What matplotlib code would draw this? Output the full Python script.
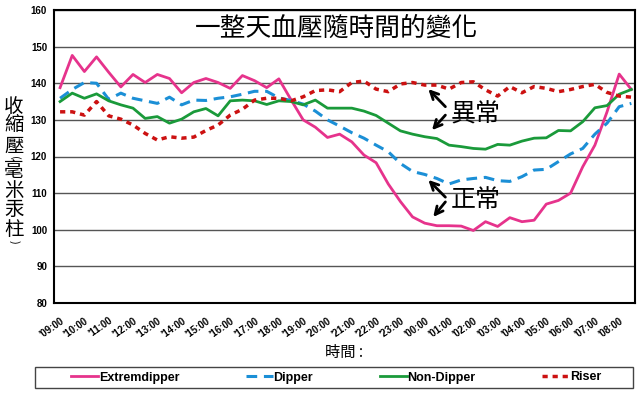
import matplotlib
matplotlib.use('Agg')
import matplotlib.pyplot as plt
import matplotlib.transforms as mtransforms
from matplotlib.patches import Rectangle
import numpy as np

# 每半小時一筆 (09:00 ~ 08:30)
hour_labels = ["'09:00", "'10:00", "'11:00", "'12:00", "'13:00", "'14:00", "'15:00", "'16:00",
               "'17:00", "'18:00", "'19:00", "'20:00", "'21:00", "'22:00", "'23:00", "'00:00",
               "'01:00", "'02:00", "'03:00", "'04:00", "'05:00", "'06:00", "'07:00", "'08:00"]

extremdipper = [138.8, 147.6, 143.2, 147.2, 143.0, 139.0, 142.4, 140.2, 142.4, 141.3, 137.4, 140.2,
                141.3, 140.2, 138.6, 142.1, 140.7, 138.8, 141.2, 135.5, 130.0, 128.0, 125.2, 126.1,
                124.0, 120.4, 118.3, 112.5, 107.7, 103.5, 101.8, 101.1, 101.1, 101.0, 99.8, 102.2,
                100.9, 103.3, 102.2, 102.6, 107.0, 108.0, 110.0, 117.2, 123.1, 132.2, 142.5, 138.3]
dipper = [135.9, 138.3, 140.2, 140.0, 135.6, 137.3, 135.9, 135.2, 134.5, 136.2, 134.1, 135.4,
          135.3, 135.9, 136.3, 137.0, 137.8, 137.8, 136.0, 135.3, 134.3, 132.4, 130.0, 128.3,
          126.5, 125.0, 123.1, 121.3, 118.1, 115.9, 115.1, 114.0, 112.5, 113.6, 114.0, 114.3,
          113.4, 113.2, 114.5, 116.3, 116.5, 118.6, 120.7, 122.2, 126.1, 129.1, 133.6, 134.5]
non_dipper = [135.0, 137.3, 135.9, 137.1, 135.2, 134.1, 133.2, 130.4, 130.9, 129.1, 130.2, 132.2,
              133.1, 131.1, 135.2, 135.4, 135.2, 134.2, 135.2, 135.0, 134.1, 135.4, 133.2, 133.2,
              133.2, 132.4, 131.2, 129.1, 127.0, 126.1, 125.4, 124.9, 123.1, 122.7, 122.2, 122.0,
              123.3, 123.1, 124.2, 125.0, 125.1, 127.1, 127.0, 129.5, 133.3, 133.9, 137.0, 138.3]
riser = [132.2, 132.2, 131.3, 135.0, 131.1, 130.2, 128.6, 126.3, 124.5, 125.4, 125.0, 125.3,
         127.1, 128.6, 131.3, 132.9, 135.4, 135.9, 135.9, 135.2, 136.3, 138.0, 138.2, 137.7,
         140.2, 140.6, 138.4, 137.7, 139.8, 140.2, 139.5, 139.5, 138.4, 140.2, 140.4, 138.2,
         136.5, 139.1, 137.4, 139.1, 138.6, 137.7, 138.3, 139.1, 139.7, 137.5, 136.5, 136.2]

plt.rcParams['font.family'] = ['Liberation Sans', 'Noto Sans CJK TC', 'DejaVu Sans']
cjk = ['Noto Sans CJK TC', 'DejaVu Sans']

fig = plt.figure(figsize=(6.4, 3.98), dpi=100)
ax = fig.add_axes([54/640, 1 - 303/398, 581/640, 293/398])

x = np.arange(len(extremdipper))
ax.plot(x, extremdipper, color='#E6338C', lw=2, label='Extremdipper')
ax.plot(x, dipper, color='#1B8FD6', lw=2.2, ls=(0, (3.5, 2.2)), label='Dipper')
ax.plot(x, non_dipper, color='#1A9A3A', lw=2, label='Non-Dipper')
ax.plot(x, riser, color='#CC1111', lw=2.5, ls=(0, (1.5, 1.4)), label='Riser')

ax.set_xlim(-0.5, 47.3)
ax.set_ylim(80, 160)
ax.set_yticks(range(80, 161, 10))
ax.yaxis.grid(True, color='#555555', lw=1)
ax.set_axisbelow(True)
ax.set_xticks(np.arange(0, 48, 2))
ax.set_xticklabels(hour_labels, rotation=35, ha='right', va='top',
                   rotation_mode='anchor', fontsize=7, fontweight='bold')
shift = mtransforms.ScaledTranslation(-3/100, 0, fig.dpi_scale_trans)
for lab in ax.get_xticklabels():
    lab.set_transform(lab.get_transform() + shift)
for lab in ax.get_yticklabels():
    lab.set_fontsize(7)
    lab.set_fontweight('bold')
ax.tick_params(length=0)
ax.tick_params(axis='x', pad=9)
ax.tick_params(axis='y', pad=5)
for sp in ax.spines.values():
    sp.set_color('black')
    sp.set_linewidth(1.5)

# 標題
ax.text(0.486, 0.935, '一整天血壓隨時間的變化', transform=ax.transAxes, ha='center', va='center',
        fontsize=18.5, family=cjk)

# 註解
ax.text(34.2, 131.4, '異常', ha='center', va='center', fontsize=18, family=cjk)
ax.text(34.2, 108.2, '正常', ha='center', va='center', fontsize=18, family=cjk)
arrow = dict(arrowstyle='->', lw=2, color='black', mutation_scale=14, shrinkA=0, shrinkB=0)
ax.annotate('', xy=(30.3, 138.4), xytext=(31.7, 133.6), arrowprops=arrow)
ax.annotate('', xy=(30.6, 127.2), xytext=(31.7, 131.3), arrowprops=arrow)
ax.annotate('', xy=(30.3, 113.6), xytext=(31.7, 108.9), arrowprops=arrow)
ax.annotate('', xy=(30.7, 103.5), xytext=(31.7, 107.6), arrowprops=arrow)

# y 軸標題 (直排)
ylab = ['收', '縮', '壓', '(', '毫', '米', '汞', '柱', ')']
ylab_y = [106, 125, 146, 158, 171, 191, 210, 230, 242]
for ch, yy in zip(ylab, ylab_y):
    if ch in '()':
        fig.text(14/640, 1 - yy/398, ch, ha='center', va='center', fontsize=8,
                 rotation=-90, family=cjk)
    else:
        fig.text(14/640, 1 - yy/398, ch, ha='center', va='center', fontsize=14, family=cjk)

fig.text(344/640, 1 - 352/398, '時間 :', ha='center', va='center', fontsize=11, family=cjk)

# 圖例
fig.add_artist(Rectangle((35/640, 10/398), 598/640, 21/398, transform=fig.transFigure,
                         fill=False, edgecolor='#444444', lw=1))
fig.legend(loc='center', bbox_to_anchor=(336/640, 20.5/398), ncol=4, frameon=False,
           borderaxespad=0, handlelength=2.2, handletextpad=0.05, columnspacing=5.3,
           prop={'size': 9, 'weight': 'bold'})

fig.savefig('out.png', dpi=100)
